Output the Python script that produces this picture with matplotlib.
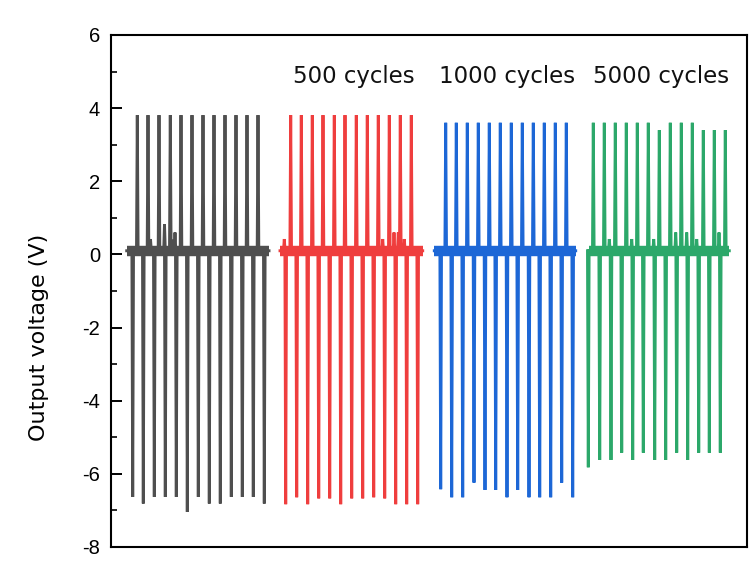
import matplotlib
matplotlib.use("Agg")
import matplotlib.pyplot as plt
import numpy as np

# ---------------- data (time in arbitrary units, voltage in V) ----------------
labels = ["", "500 cycles", "1000 cycles", "5000 cycles"]
colors = ["#4f4f4f", "#ef3e3e", "#1d67d6", "#2ca86a"]

seg_start = [1.57, 16.9, 32.33, 47.83]
seg_end = [15.8, 31.17, 46.47, 61.83]

neg_t_0 = [2.17, 3.23, 4.33, 5.43, 6.53, 7.63, 8.73, 9.83, 10.93, 12.03, 13.13, 14.23, 15.33]
neg_v_0 = [-6.63, -6.81, -6.63, -6.63, -6.63, -7.04, -6.63, -6.81, -6.81, -6.63, -6.63, -6.63, -6.81]
pos_t_0 = [2.63, 3.70, 4.80, 5.93, 7.00, 8.10, 9.20, 10.30, 11.40, 12.50, 13.60, 14.70]
pos_v_0 = [3.81, 3.81, 3.81, 3.81, 3.81, 3.81, 3.81, 3.81, 3.81, 3.81, 3.81, 3.81]
bump_t_0 = [3.95, 5.35, 6.40, 6.15]
bump_v_0 = [0.42, 0.82, 0.60, 0.40]

neg_t_1 = [17.47, 18.57, 19.67, 20.77, 21.87, 22.97, 24.07, 25.17, 26.27, 27.37, 28.47, 29.57, 30.67]
neg_v_1 = [-6.83, -6.64, -6.83, -6.67, -6.67, -6.83, -6.67, -6.67, -6.64, -6.67, -6.83, -6.83, -6.83]
pos_t_1 = [17.97, 19.03, 20.13, 21.20, 22.33, 23.40, 24.53, 25.63, 26.73, 27.83, 28.93, 30.03]
pos_v_1 = [3.81, 3.81, 3.81, 3.81, 3.81, 3.81, 3.81, 3.81, 3.81, 3.81, 3.81, 3.81]
bump_t_1 = [17.33, 28.30, 28.73, 29.33, 27.17]
bump_v_1 = [0.42, 0.60, 0.60, 0.42, 0.42]

neg_t_2 = [32.97, 34.07, 35.17, 36.30, 37.40, 38.47, 39.60, 40.67, 41.80, 42.87, 43.97, 45.07, 46.17]
neg_v_2 = [-6.42, -6.64, -6.64, -6.24, -6.44, -6.44, -6.64, -6.44, -6.64, -6.64, -6.64, -6.24, -6.64]
pos_t_2 = [33.47, 34.53, 35.63, 36.73, 37.83, 38.93, 40.03, 41.13, 42.23, 43.33, 44.43, 45.53]
pos_v_2 = [3.60, 3.60, 3.60, 3.60, 3.60, 3.60, 3.60, 3.60, 3.60, 3.60, 3.60, 3.60]
bump_t_2 = []
bump_v_2 = []

neg_t_3 = [47.73, 48.87, 50.00, 51.07, 52.17, 53.23, 54.37, 55.47, 56.57, 57.67, 58.77, 59.83, 60.93]
neg_v_3 = [-5.82, -5.62, -5.62, -5.42, -5.62, -5.42, -5.62, -5.62, -5.42, -5.62, -5.42, -5.42, -5.42]
pos_t_3 = [48.23, 49.33, 50.43, 51.53, 52.63, 53.73, 54.83, 55.93, 57.03, 58.13, 59.23, 60.33, 61.43]
pos_v_3 = [3.60, 3.60, 3.60, 3.60, 3.60, 3.60, 3.40, 3.60, 3.60, 3.60, 3.40, 3.40, 3.40]
bump_t_3 = [49.83, 52.07, 54.27, 56.47, 57.57, 58.57, 60.80]
bump_v_3 = [0.42, 0.42, 0.42, 0.60, 0.60, 0.42, 0.60]

negs_t = [neg_t_0, neg_t_1, neg_t_2, neg_t_3]
negs_v = [neg_v_0, neg_v_1, neg_v_2, neg_v_3]
poss_t = [pos_t_0, pos_t_1, pos_t_2, pos_t_3]
poss_v = [pos_v_0, pos_v_1, pos_v_2, pos_v_3]
bumps_t = [bump_t_0, bump_t_1, bump_t_2, bump_t_3]
bumps_v = [bump_v_0, bump_v_1, bump_v_2, bump_v_3]

baseline_level = 0.10
label_y = 4.70
yticks = [-8, -6, -4, -2, 0, 2, 4, 6]

# ---------------- figure ----------------
fig = plt.figure(figsize=(7.5, 5.65), dpi=100)
ax = fig.add_axes([111 / 750, 1 - 547 / 565, (747 - 111) / 750, (547 - 35) / 565])

d = 0.08
for i in range(4):
    c = colors[i]
    # baseline noise band
    ax.plot([seg_start[i], seg_end[i]], [baseline_level, baseline_level],
            color=c, lw=7.5, solid_capstyle="butt", zorder=2)
    events = sorted(list(zip(negs_t[i], negs_v[i])) + list(zip(poss_t[i], poss_v[i]))
                    + list(zip(bumps_t[i], bumps_v[i])))
    xs, ys = [seg_start[i]], [baseline_level]
    for t, v in events:
        xs += [t - d, t, t + d]
        ys += [baseline_level, v, baseline_level]
    xs.append(seg_end[i])
    ys.append(baseline_level)
    ax.plot(xs, ys, color=c, lw=2.1, solid_joinstyle="miter", zorder=3)
    if labels[i]:
        ax.text((seg_start[i] + seg_end[i]) / 2 + 0.2, label_y, labels[i], ha="center", va="baseline",
                fontsize=16.5, family="DejaVu Sans", color="#111111")

ax.set_xlim(0, 63.6)
ax.set_ylim(-8, 6)
ax.set_xticks([])
ax.set_yticks(yticks)
ax.set_yticklabels([str(v) for v in yticks], family="Liberation Sans", fontsize=14.5)
ax.yaxis.set_minor_locator(matplotlib.ticker.MultipleLocator(1))
ax.tick_params(axis="y", which="major", direction="in", length=8, width=1.4, pad=8)
ax.tick_params(axis="y", which="minor", direction="in", length=4, width=1.2)
for s in ax.spines.values():
    s.set_linewidth(1.5)

fig.text(39 / 750, 1 - 337 / 565, "Output voltage (V)", rotation=90, ha="center", va="center",
         fontsize=16, family="DejaVu Sans")

fig.savefig("out.png", dpi=100)
